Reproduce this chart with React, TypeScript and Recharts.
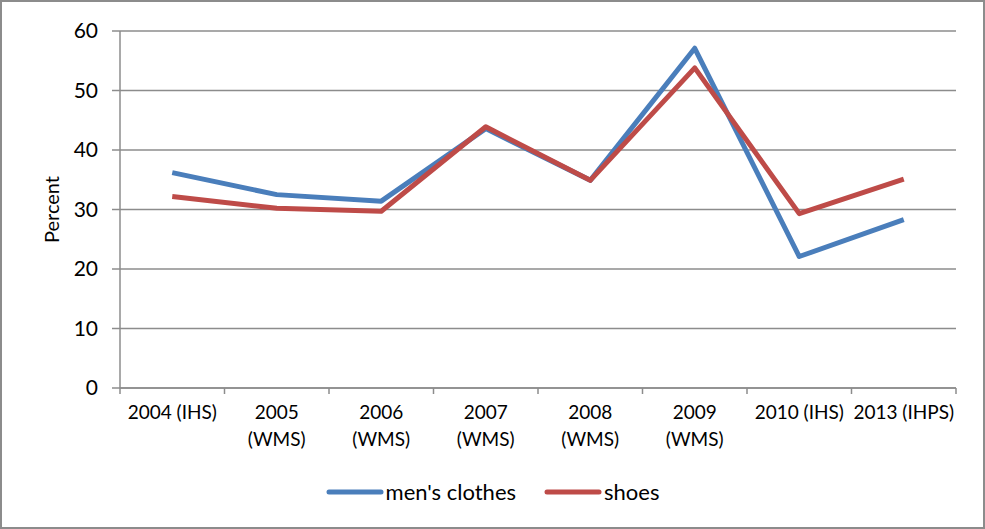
import React from 'react';
import { LineChart, Line, XAxis, YAxis, CartesianGrid, Legend } from 'recharts';

const categories = [
  '2004 (IHS)',
  '2005\n(WMS)',
  '2006\n(WMS)',
  '2007\n(WMS)',
  '2008\n(WMS)',
  '2009\n(WMS)',
  '2010 (IHS)',
  '2013 (IHPS)',
];
const mensClothes = [36.2, 32.5, 31.4, 43.6, 34.9, 57.1, 22.1, 28.3];
const shoes = [32.2, 30.2, 29.7, 43.9, 34.9, 53.8, 29.3, 35.1];
const yTicks = [0, 10, 20, 30, 40, 50, 60];

const data = categories.map((name, i) => ({
  name,
  men: mensClothes[i],
  shoes: shoes[i],
}));

const FONT = 'Lato, "Open Sans", sans-serif';
const AXIS = '#8c8c8c';
const BLUE = '#4a7ebb';
const RED = '#be4b48';
const BAND = (956 - 120) / categories.length;

// category label centred in its band, tick marks drawn on the band edges
function CategoryTick({ x, y, payload, index }: any) {
  const lines = String(payload.value).split('\n');
  const axisY = y - 6;
  const left = x - BAND / 2;
  const right = x + BAND / 2;
  return (
    <g>
      <line x1={left} y1={axisY} x2={left} y2={axisY + 6} stroke={AXIS} strokeWidth={1.5} />
      {index === categories.length - 1 && (
        <line x1={right} y1={axisY} x2={right} y2={axisY + 6} stroke={AXIS} strokeWidth={1.5} />
      )}
      <text x={x} y={y} textAnchor="middle" fill="#000" fontSize={19} fontFamily={FONT}>
        {lines.map((l, i) => (
          <tspan key={i} x={x} dy={i === 0 ? 25 : 27}>
            {l}
          </tspan>
        ))}
      </text>
    </g>
  );
}

function LegendBox() {
  const items = [
    { label: "men's clothes", color: BLUE },
    { label: 'shoes', color: RED },
  ];
  return (
    <div style={{ display: 'flex', justifyContent: 'center', gap: 28, fontFamily: FONT, fontSize: 22 }}>
      {items.map((it) => (
        <div key={it.label} style={{ display: 'flex', alignItems: 'center' }}>
          <svg width={58} height={10} style={{ marginRight: 2 }}>
            <line x1={3} y1={5} x2={55} y2={5} stroke={it.color} strokeWidth={5} strokeLinecap="round" />
          </svg>
          <span>{it.label}</span>
        </div>
      ))}
    </div>
  );
}

export default function App() {
  return (
    <div
      style={{
        position: 'absolute',
        left: 0,
        top: 0,
        width: 985,
        height: 529,
        background: '#fff',
        boxSizing: 'border-box',
        border: '2px solid #8c8c8c',
      }}
    >
      <LineChart
        width={981}
        height={525}
        data={data}
        margin={{ top: 29, right: 27, bottom: 52, left: 0 }}
        style={{ fontFamily: FONT }}
      >
        <CartesianGrid vertical={false} stroke={AXIS} strokeWidth={1.5} />
        <XAxis
          dataKey="name"
          scale="band"
          interval={0}
          tick={<CategoryTick />}
          tickSize={6}
          tickMargin={0}
          tickLine={false}
          axisLine={{ stroke: AXIS, strokeWidth: 1.5 }}
          height={60}
        />
        <YAxis
          domain={[0, 60]}
          ticks={yTicks}
          width={118}
          tickSize={8}
          tickMargin={14}
          axisLine={{ stroke: AXIS, strokeWidth: 1.5 }}
          tickLine={{ stroke: AXIS, strokeWidth: 1.5 }}
          tick={{ fill: '#000', fontSize: 21, fontFamily: FONT }}
          label={{
            value: 'Percent',
            angle: -90,
            position: 'insideLeft',
            offset: 50,
            style: { fill: '#000', fontSize: 20, fontFamily: FONT, textAnchor: 'middle' },
          }}
        />
        <Legend
          verticalAlign="bottom"
          content={() => <LegendBox />}
          wrapperStyle={{ bottom: 22, left: 0, width: 981 }}
        />
        <Line
          type="linear"
          dataKey="men"
          name="men's clothes"
          stroke={BLUE}
          strokeWidth={5}
          strokeLinejoin="round"
          dot={false}
          isAnimationActive={false}
        />
        <Line
          type="linear"
          dataKey="shoes"
          name="shoes"
          stroke={RED}
          strokeWidth={5}
          strokeLinejoin="round"
          dot={false}
          isAnimationActive={false}
        />
      </LineChart>
    </div>
  );
}
